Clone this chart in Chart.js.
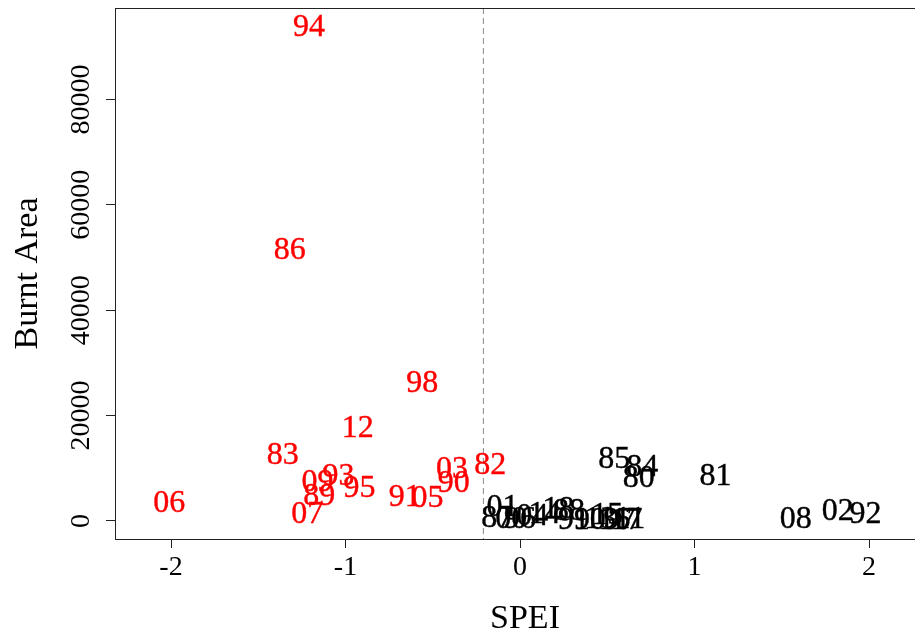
<!doctype html>
<html lang="en-US">

<head>
    <meta charset="UTF-8" />
    <title>Burnt Area vs SPEI</title>
    <style>
        html, body { margin: 0; padding: 0; background: #fff; overflow: hidden; }
        canvas { display: block; }
    </style>
</head>

<body>
    <canvas id="chart" width="935" height="637"></canvas>

    <script src="https://cdn.jsdelivr.net/npm/chart.js@4"></script>
    <script>
        // Years in the "dry" group (red)
        const redYears = ['94', '86', '98', '12', '83', '06', '07', '89', '09', '93', '95', '91', '05', '03', '90', '82'];
        const redSpei = [-1.21, -1.32, -0.56, -0.93, -1.36, -2.01, -1.22, -1.15, -1.16, -1.04, -0.92, -0.66, -0.53, -0.39, -0.38, -0.17];
        const redArea = [94100, 51800, 26600, 18000, 12900, 3800, 1700, 5100, 7800, 8900, 6600, 4900, 4700, 10200, 7600, 11000];

        // Years in the other group (black)
        const blackYears = ['85', '84', '80', '81', '08', '02', '92', '01', '87', '00', '96', '04', '14', '18', '88', '99', '10', '13', '15', '16', '97', '17', '11'];
        const blackSpei = [0.54, 0.70, 0.68, 1.12, 1.58, 1.82, 1.98, -0.10, -0.13, -0.05, 0.00, 0.07, 0.14, 0.22, 0.28, 0.31, 0.40, 0.46, 0.50, 0.54, 0.57, 0.61, 0.63];
        const blackArea = [12100, 10600, 8500, 8900, 760, 2300, 1700, 3000, 950, 760, 760, 1300, 1700, 2700, 2300, 570, 570, 760, 1500, 570, 570, 570, 760];

        const threshold = -0.21;

        const xTicks = [-2, -1, 0, 1, 2];
        const xTickLabels = ['-2', '-1', '0', '1', '2'];
        const yTicks = [0, 20000, 40000, 60000, 80000];
        const yTickLabels = ['0', '20000', '40000', '60000', '80000'];

        const X_MIN = -2.321, X_MAX = 2.378;
        const Y_MIN = -3416, Y_MAX = 97340;

        const FAMILY = '"Liberation Serif", "Times New Roman", serif';
        const LABEL_SIZE = 32;

        const toPoints = (xs, ys) => xs.map((x, i) => ({ x: x, y: ys[i] }));

        // draws each year as text centred on its point (digit height centred, like R's text())
        const textPoints = {
            id: 'textPoints',
            afterDatasetsDraw(chart) {
                const ctx = chart.ctx;
                const shift = LABEL_SIZE * 0.338;
                ctx.save();
                ctx.font = LABEL_SIZE + 'px ' + FAMILY;
                ctx.textAlign = 'center';
                ctx.textBaseline = 'alphabetic';
                chart.data.datasets.forEach((ds, i) => {
                    if (!ds.labels) return;
                    ctx.fillStyle = ds.textColor;
                    ctx.strokeStyle = ds.textColor;
                    ctx.lineWidth = 0.4;
                    chart.getDatasetMeta(i).data.forEach((el, j) => {
                        ctx.fillText(ds.labels[j], el.x, el.y + shift);
                        ctx.strokeText(ds.labels[j], el.x, el.y + shift);
                    });
                });
                ctx.restore();
            },
        };

        // top side of the plot box
        const box = {
            id: 'box',
            afterDraw(chart) {
                const a = chart.chartArea;
                const ctx = chart.ctx;
                ctx.save();
                ctx.strokeStyle = '#222';
                ctx.lineWidth = 1;
                ctx.beginPath();
                ctx.moveTo(a.left, a.top + 0.5);
                ctx.lineTo(a.right, a.top + 0.5);
                ctx.stroke();
                ctx.restore();
            },
        };

        new Chart(document.getElementById('chart'), {
            type: 'scatter',
            data: {
                datasets: [
                    {
                        type: 'line',
                        data: [{ x: threshold, y: Y_MAX }, { x: threshold, y: Y_MIN }],
                        borderColor: '#888',
                        borderWidth: 1,
                        borderDash: [6, 4],
                        pointRadius: 0,
                        fill: false,
                    },
                    {
                        data: toPoints(redSpei, redArea),
                        labels: redYears,
                        textColor: '#ff0000',
                        pointRadius: 0,
                    },
                    {
                        data: toPoints(blackSpei, blackArea),
                        labels: blackYears,
                        textColor: '#000000',
                        pointRadius: 0,
                    },
                ],
            },
            options: {
                responsive: false,
                animation: false,
                layout: { padding: { top: 8, left: 0, right: 0, bottom: 0 } },
                plugins: {
                    legend: { display: false },
                    tooltip: { enabled: false },
                },
                scales: {
                    x: {
                        type: 'linear',
                        min: X_MIN,
                        max: X_MAX,
                        afterFit: (s) => { s.height = 98; },
                        afterBuildTicks: (s) => { s.ticks = xTicks.map((v) => ({ value: v })); },
                        grid: { drawOnChartArea: false, drawTicks: true, tickLength: 9, color: '#222' },
                        border: { display: true, color: '#222', width: 1 },
                        ticks: {
                            font: { family: FAMILY, size: 28 },
                            color: '#000',
                            padding: 3,
                            maxRotation: 0,
                            callback: (v, i) => xTickLabels[i],
                        },
                        title: {
                            display: true,
                            text: 'SPEI',
                            font: { family: FAMILY, size: 34 },
                            color: '#000',
                            padding: { top: 0, bottom: -2 },
                        },
                    },
                    y: {
                        type: 'linear',
                        min: Y_MIN,
                        max: Y_MAX,
                        afterFit: (s) => { s.width = 115; },
                        afterBuildTicks: (s) => { s.ticks = yTicks.map((v) => ({ value: v })); },
                        grid: { drawOnChartArea: false, drawTicks: true, tickLength: 9, color: '#222' },
                        border: { display: true, color: '#222', width: 1 },
                        ticks: {
                            font: { family: FAMILY, size: 28 },
                            color: '#000',
                            padding: -11,
                            minRotation: 90,
                            maxRotation: 90,
                            crossAlign: 'center',
                            callback: (v, i) => yTickLabels[i],
                        },
                        title: {
                            display: true,
                            text: 'Burnt Area',
                            font: { family: FAMILY, size: 34 },
                            color: '#000',
                            padding: { top: 8, bottom: 0 },
                        },
                    },
                },
            },
            plugins: [textPoints, box],
        });
    </script>
</body>

</html>
